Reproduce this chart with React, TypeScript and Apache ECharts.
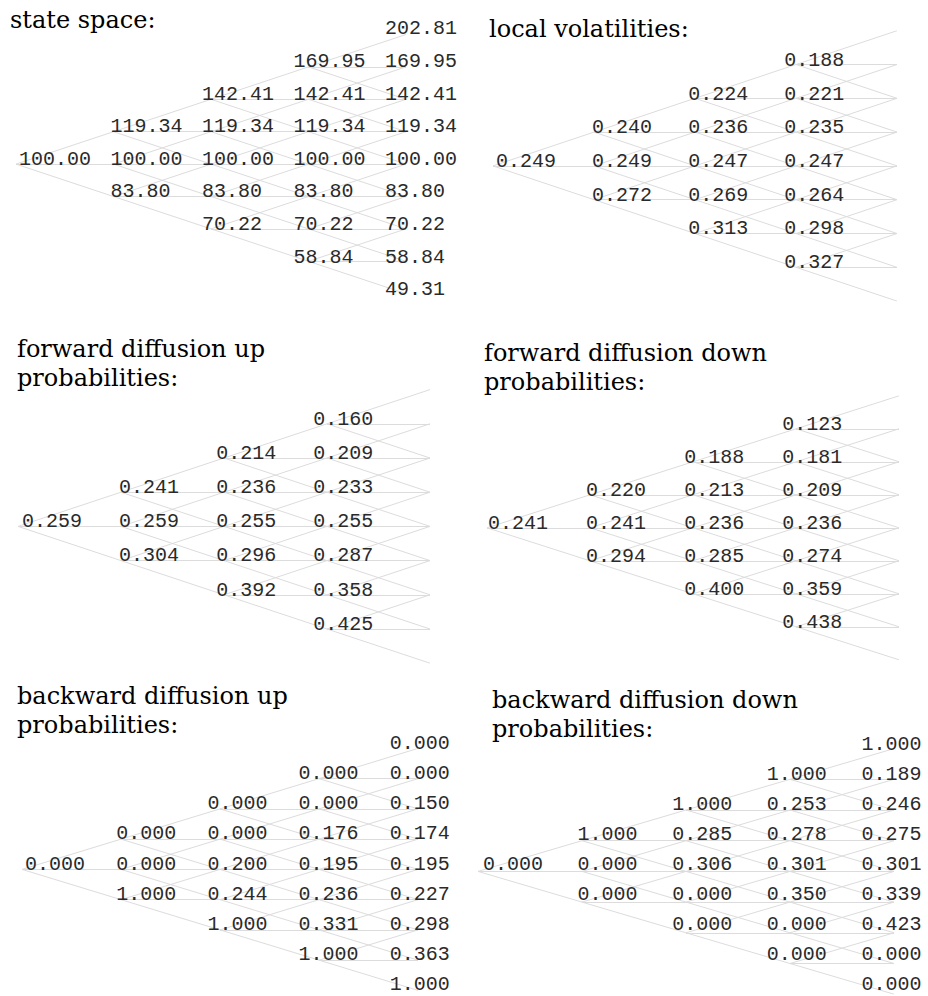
import React, { useEffect, useRef } from "react";
import * as echarts from "echarts";

// ---------- data ----------
const titles = [
  "state space:",
  "local volatilities:",
  "forward diffusion up\nprobabilities:",
  "forward diffusion down\nprobabilities:",
  "backward diffusion up\nprobabilities:",
  "backward diffusion down\nprobabilities:",
];

// each tree: columns by time level, nodes listed from top (j = +i) to bottom (j = -i)
const stateSpace = [
  [100.0],
  [119.34, 100.0, 83.8],
  [142.41, 119.34, 100.0, 83.8, 70.22],
  [169.95, 142.41, 119.34, 100.0, 83.8, 70.22, 58.84],
  [202.81, 169.95, 142.41, 119.34, 100.0, 83.8, 70.22, 58.84, 49.31],
];
const localVol = [
  [0.249],
  [0.24, 0.249, 0.272],
  [0.224, 0.236, 0.247, 0.269, 0.313],
  [0.188, 0.221, 0.235, 0.247, 0.264, 0.298, 0.327],
];
const fwdUp = [
  [0.259],
  [0.241, 0.259, 0.304],
  [0.214, 0.236, 0.255, 0.296, 0.392],
  [0.16, 0.209, 0.233, 0.255, 0.287, 0.358, 0.425],
];
const fwdDown = [
  [0.241],
  [0.22, 0.241, 0.294],
  [0.188, 0.213, 0.236, 0.285, 0.4],
  [0.123, 0.181, 0.209, 0.236, 0.274, 0.359, 0.438],
];
const bwdUp = [
  [0.0],
  [0.0, 0.0, 1.0],
  [0.0, 0.0, 0.2, 0.244, 1.0],
  [0.0, 0.0, 0.176, 0.195, 0.236, 0.331, 1.0],
  [0.0, 0.0, 0.15, 0.174, 0.195, 0.227, 0.298, 0.363, 1.0],
];
const bwdDown = [
  [0.0],
  [1.0, 0.0, 0.0],
  [1.0, 0.285, 0.306, 0.0, 0.0],
  [1.0, 0.253, 0.278, 0.301, 0.35, 0.0, 0.0],
  [1.0, 0.189, 0.246, 0.275, 0.301, 0.339, 0.423, 0.0, 0.0],
];
const trees = [stateSpace, localVol, fwdUp, fwdDown, bwdUp, bwdDown];
const decimals = [2, 3, 3, 3, 3, 3];
const TREE_STEPS = 4;

// ---------- layout (pixels) ----------
// tx,ty: title; nx,nDx,ny,nDy: line-node grid; lx,lDx,ly,lDy: label grid
const LAYOUT = [
  { tx: 10, ty: 5, nx: 16, nDx: 97.5, ny: 164.1, nDy: 32.4, lx: 19, lDx: 91.5, ly: 159.3, lDy: 32.6 },
  { tx: 489, ty: 14, nx: 493, nDx: 101, ny: 165.9, nDy: 33.8, lx: 496, lDx: 96.1, ly: 161.4, lDy: 33.7 },
  { tx: 17, ty: 334, nx: 18, nDx: 103, ny: 526.4, nDy: 34.2, lx: 22, lDx: 97.1, ly: 521.8, lDy: 34.1 },
  { tx: 484, ty: 338, nx: 487, nDx: 103, ny: 527.8, nDy: 33.0, lx: 488, lDx: 98.1, ly: 523.6, lDy: 32.9 },
  { tx: 17, ty: 681, nx: 22, nDx: 99, ny: 869.4, nDy: 30.25, lx: 25, lDx: 91.2, ly: 864.0, lDy: 30.2 },
  { tx: 492, ty: 685, nx: 478, nDx: 104, ny: 871.4, nDy: 30.7, lx: 483, lDx: 94.6, ly: 864.4, lDy: 30.0 },
];

function buildOption() {
  const grid: any[] = [];
  const xAxis: any[] = [];
  const yAxis: any[] = [];
  const series: any[] = [];
  const title: any[] = [];

  trees.forEach((tree, k) => {
    const L = LAYOUT[k];
    title.push({
      text: titles[k],
      left: L.tx,
      top: L.ty,
      padding: 0,
      textStyle: {
        fontFamily: "DejaVu Serif",
        fontSize: 24,
        fontWeight: "normal",
        color: "#000",
        lineHeight: 29,
      },
    });

    // line grid
    const gi = grid.length;
    grid.push({ left: L.nx, top: L.ny - 4 * L.nDy, width: TREE_STEPS * L.nDx, height: 8 * L.nDy });
    xAxis.push({ type: "value", gridIndex: gi, min: 0, max: TREE_STEPS, show: false });
    yAxis.push({ type: "value", gridIndex: gi, min: -4, max: 4, show: false });
    const segs: any[] = [];
    for (let i = 0; i < TREE_STEPS; i++) {
      for (let j = -i; j <= i; j++) {
        for (const d of [1, 0, -1]) {
          segs.push({ coords: [[i, j], [i + 1, j + d]] });
        }
      }
    }
    series.push({
      type: "lines",
      coordinateSystem: "cartesian2d",
      xAxisIndex: gi,
      yAxisIndex: gi,
      data: segs,
      silent: true,
      z: 1,
      lineStyle: { color: "#dcdcdc", width: 1, opacity: 1, curveness: 0 },
    });

    // label grid
    const gl = grid.length;
    const levels = tree.length;
    grid.push({ left: L.lx, top: L.ly - 4 * L.lDy, width: (levels - 1) * L.lDx, height: 8 * L.lDy });
    xAxis.push({ type: "value", gridIndex: gl, min: 0, max: levels - 1, show: false });
    yAxis.push({ type: "value", gridIndex: gl, min: -4, max: 4, show: false });
    const pts: any[] = [];
    tree.forEach((col, i) => {
      col.forEach((v, n) => {
        pts.push({ value: [i, i - n], text: v.toFixed(decimals[k]) });
      });
    });
    series.push({
      type: "scatter",
      xAxisIndex: gl,
      yAxisIndex: gl,
      data: pts,
      symbolSize: 0,
      itemStyle: { color: "rgba(0,0,0,0)" },
      silent: true,
      z: 2,
      label: {
        show: true,
        position: "right",
        distance: 0,
        formatter: (p: any) => p.data.text,
        fontFamily: "Liberation Mono",
        fontSize: 20,
        color: "#2a2a2a",
        opacity: 1,
      },
    });
  });

  return {
    animation: false,
    backgroundColor: "#ffffff",
    title,
    grid,
    xAxis,
    yAxis,
    series,
  };
}

export default function App() {
  const ref = useRef<HTMLDivElement>(null);
  useEffect(() => {
    if (!ref.current) return;
    const chart = echarts.init(ref.current, undefined, { renderer: "svg" });
    chart.setOption(buildOption() as any);
    return () => chart.dispose();
  }, []);
  return (
    <div
      ref={ref}
      style={{ position: "fixed", left: 0, top: 0, width: 928, height: 996, background: "#fff" }}
    />
  );
}
